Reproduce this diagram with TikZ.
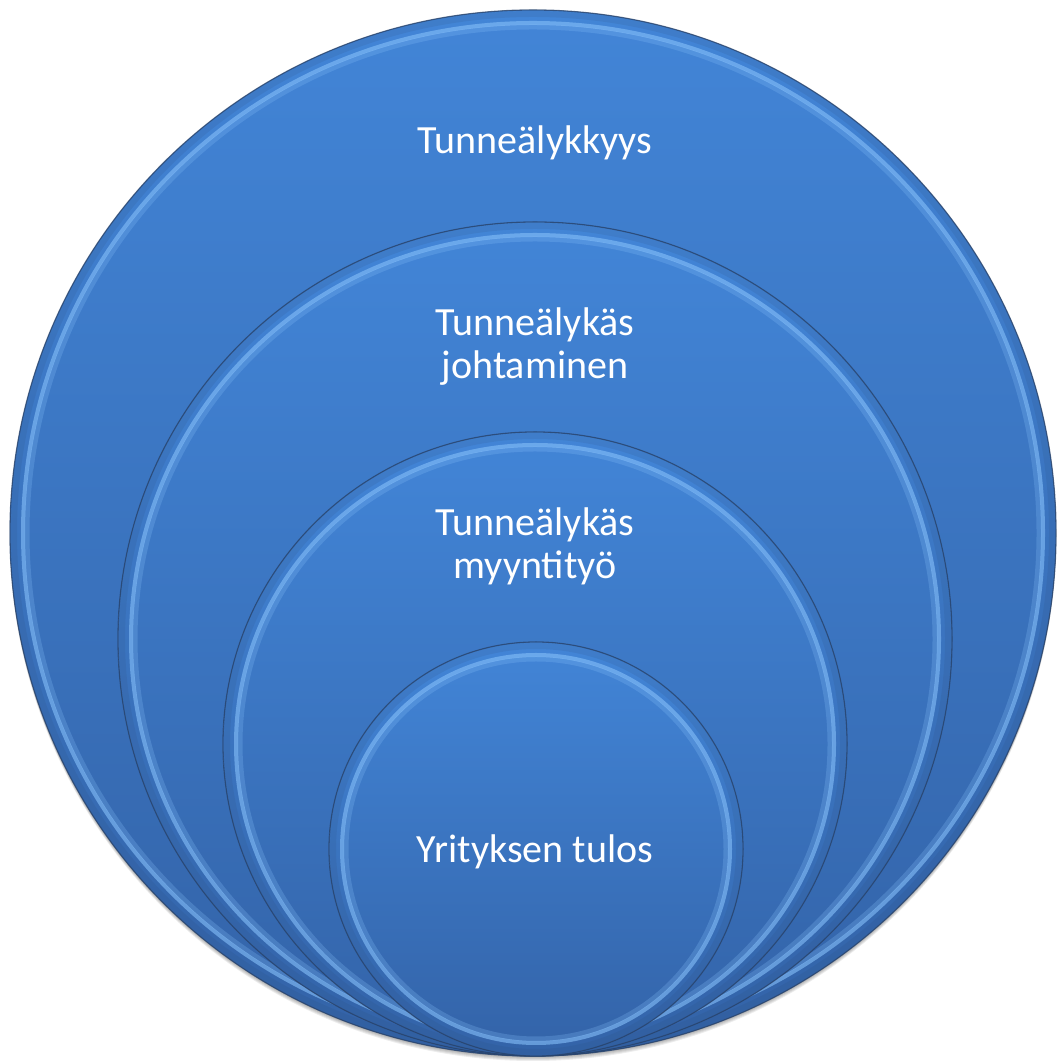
\documentclass[tikz,border=0pt]{standalone}
\usepackage{fontspec}
\setmainfont{Carlito}
\definecolor{blueTop}{HTML}{4285D7}
\definecolor{blueBot}{HTML}{3363A8}
\definecolor{rimLight}{HTML}{86C0FA}
\definecolor{rimDark}{HTML}{2A4670}
\begin{document}
\begin{tikzpicture}[x=1pt,y=1pt]
\tikzset{
  disc/.style={top color=blueTop, bottom color=blueBot},
  outline/.style={draw=rimDark, line width=1.3pt, opacity=0.75},
  innerdark/.style={draw=rimDark, line width=6pt, opacity=0.12},
  rimband/.style={draw=rimLight, line width=4pt, opacity=0.6},
  rimsoft/.style={draw=rimLight, line width=5pt, opacity=0.25},
  shadowc/.style={fill=black, opacity=0.07},
  lbl/.style={text=white, align=center, font=\fontsize{40}{43}\selectfont, inner sep=0pt}
}
\useasboundingbox (0,0) rectangle (1056,1064);
\newcommand\layerdisc[3]{%
  \fill[disc] (#1,#2) circle (#3);
  \draw[innerdark] (#1,#2) circle ({#3-4});
  \draw[rimsoft] (#1,#2) circle ({#3-17});
  \draw[rimband] (#1,#2) circle ({#3-13});
  \draw[outline] (#1,#2) circle (#3);
}
% soft shadow
\foreach \d in {1,2,3,4,5}{\fill[shadowc] (533,{531-\d}) circle (523);}
\layerdisc{533}{531}{523}
\layerdisc{535}{425}{417}
\layerdisc{535}{320}{312}
\layerdisc{536}{215}{207}
\node[lbl] (t1) at (535,921) {Tunneälykkyys};
\node[lbl] (t2) at (535,717) {Tunneälykäs\\johtaminen};
\node[lbl] (t3) at (535,518) {Tunneälykäs\\myyntityö};
\node[lbl] (t4) at (535,212) {Yrityksen tulos};
\end{tikzpicture}
\end{document}
